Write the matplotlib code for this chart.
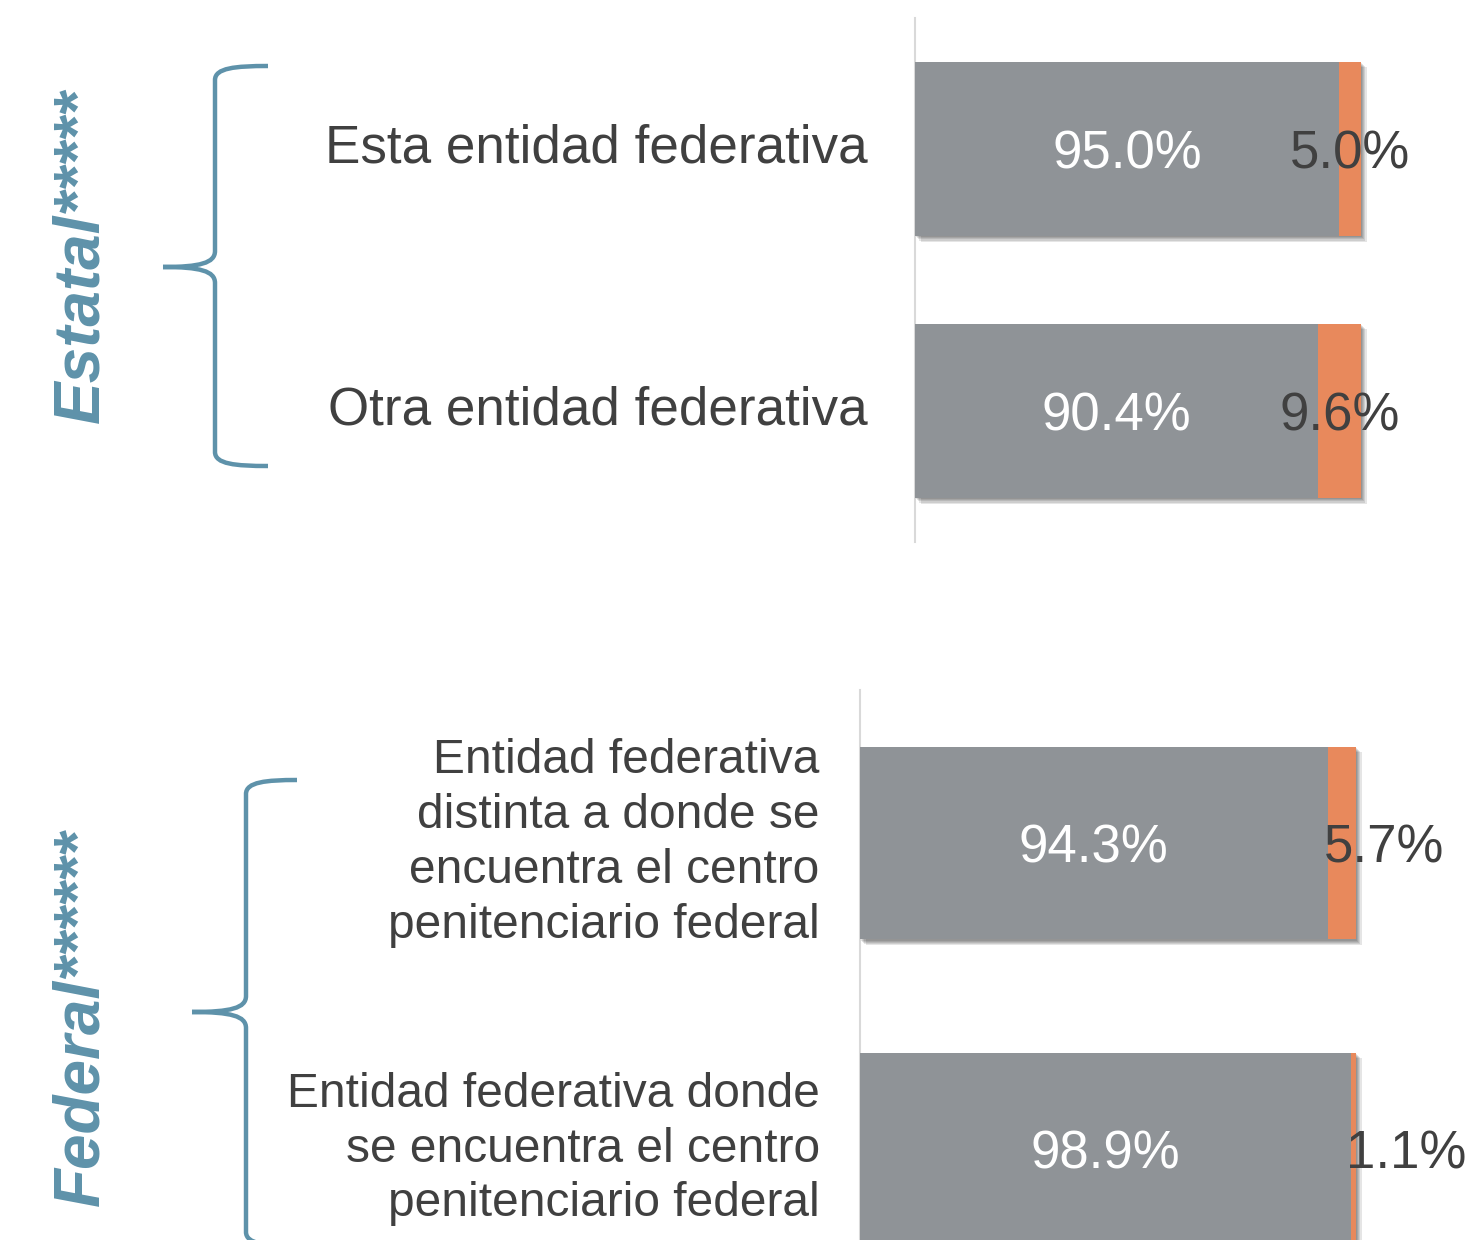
import matplotlib.pyplot as plt
import matplotlib.patheffects as pe
from matplotlib.path import Path
from matplotlib.patches import PathPatch

plt.rcParams['font.family'] = ['Liberation Sans', 'DejaVu Sans']

# porcentajes por tipo de centro penitenciario
estatal_cats = ['Esta entidad federativa', 'Otra entidad federativa']
estatal_si = [95.0, 90.4]
estatal_no = [5.0, 9.6]

federal_cats = ['Entidad federativa\ndistinta a donde se\nencuentra el centro\npenitenciario federal',
                'Entidad federativa donde\nse encuentra el centro\npenitenciario federal']
federal_si = [94.3, 98.9]
federal_no = [5.7, 1.1]

GRAY = '#8f9397'
ORANGE = '#e8895c'
BLUE = '#5e92aa'
TEXT = '#404040'

W, H = 1472, 1240
fig = plt.figure(figsize=(W / 100, H / 100), dpi=100)


def px_axes(left, top, right, bottom):
    return fig.add_axes([left / W, 1 - bottom / H, (right - left) / W, (bottom - top) / H])


# soft drop shadow under the bars
shadow = [pe.SimplePatchShadow(offset=(d, -d), shadow_rgbFace='black', alpha=0.1)
          for d in (0.8, 1.6, 2.4, 3.2, 4.0)] + [pe.Normal()]


def draw_panel(ax, cats, si, no, bar_h, cat_size, cat_pad, edge_labels):
    y = list(range(len(cats)))
    ax.barh(y, si, height=bar_h, color=GRAY, path_effects=shadow, zorder=3, clip_on=False)
    ax.barh(y, no, left=si, height=bar_h, color=ORANGE, path_effects=shadow, zorder=3, clip_on=False)
    ax.set_xlim(0, 100)
    ax.set_ylim(len(cats) - 0.5, -0.5)
    for s in ['top', 'right', 'bottom']:
        ax.spines[s].set_visible(False)
    ax.spines['left'].set_color('#d9d9d9')
    ax.spines['left'].set_linewidth(1.5)
    ax.set_xticks([])
    ax.set_yticks([])

    for i in y:
        ax.text(si[i] / 2, i, f'{si[i]:.1f}%', color='white', fontsize=38,
                ha='center', va='center_baseline', zorder=5)
        if edge_labels:
            ax.annotate(f'{no[i]:.1f}%', (si[i], i), xytext=(-3, 0), textcoords='offset points',
                        color=TEXT, fontsize=38, ha='left', va='center_baseline', zorder=5,
                        annotation_clip=False)
        else:
            ax.text(si[i] + no[i] / 2, i, f'{no[i]:.1f}%', color=TEXT, fontsize=38,
                    ha='center', va='center_baseline', zorder=5, clip_on=False)
        ax.annotate(cats[i], (0, i), xycoords=('axes fraction', 'data'),
                    xytext=(-cat_pad, 0), textcoords='offset points',
                    color=TEXT, fontsize=cat_size, ha='right', va='center',
                    linespacing=1.28, annotation_clip=False)


ax1 = px_axes(915, 18, 1361, 542)
draw_panel(ax1, estatal_cats, estatal_si, estatal_no, 0.665, 38.2, 34, False)

ax2 = px_axes(860, 690, 1356, 1302)
draw_panel(ax2, federal_cats, federal_si, federal_no, 0.63, 34.5, 29, True)


def brace(x, top, tip_x, mid, bottom, right):
    pts = [(right, top), (x + 20, top), (x, top + 2), (x, top + 14),
           (x, mid - 16),
           (x, mid - 4), (x - 15, mid), (tip_x, mid),
           (x - 15, mid), (x, mid + 4), (x, mid + 16),
           (x, bottom - 14),
           (x, bottom - 2), (x + 20, bottom), (right, bottom)]
    codes = [Path.MOVETO, Path.CURVE4, Path.CURVE4, Path.CURVE4,
             Path.LINETO,
             Path.CURVE4, Path.CURVE4, Path.CURVE4,
             Path.CURVE4, Path.CURVE4, Path.CURVE4,
             Path.LINETO,
             Path.CURVE4, Path.CURVE4, Path.CURVE4]
    verts = [(px / W, 1 - py / H) for px, py in pts]
    fig.patches.append(PathPatch(Path(verts, codes), transform=fig.transFigure,
                                 facecolor='none', edgecolor=BLUE, lw=3.2, capstyle='butt'))


brace(215, 66, 163, 267, 466, 268)
brace(246, 780, 192, 1012, 1246, 297)

# rotated group titles next to the braces
for title, yc in [('Estatal*****', 256.5), ('Federal******', 1017.5)]:
    fig.text(98 / W, 1 - yc / H, title, rotation=90, rotation_mode='anchor',
             ha='center', va='baseline', fontsize=46, fontweight='bold', fontstyle='italic',
             color=BLUE)

fig.savefig('out.png', dpi=100)
